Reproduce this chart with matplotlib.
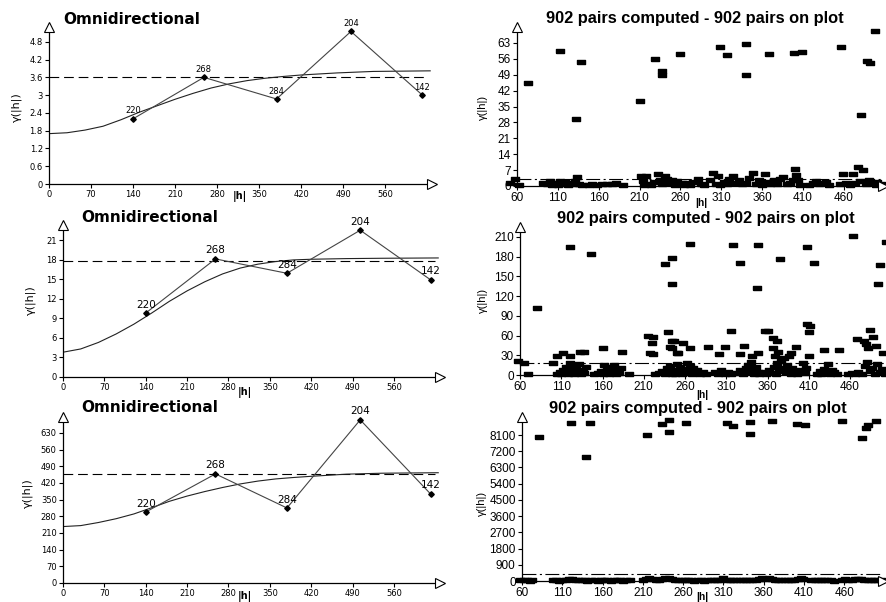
import numpy as np
import matplotlib
matplotlib.use('Agg')
import matplotlib.pyplot as plt

plt.rcParams['lines.scale_dashes'] = False

W, H = 887, 602

# experimental variograms (left column)
lags = [140, 258, 379, 503, 622]
npairs = [220, 268, 284, 204, 142]
gam1 = [2.2, 3.6, 2.87, 5.15, 3.0]
gam2 = [9.8, 18.1, 15.9, 22.5, 14.9]
gam3 = [298, 458, 315, 685, 374]
sills = [3.62, 17.8, 458]

# fitted model curves
mod_h = [0, 30, 60, 90, 120, 150, 180, 210, 240, 270, 300, 330, 360, 390, 420, 480, 540, 635]
mod_g1 = [1.70, 1.73, 1.82, 1.95, 2.17, 2.42, 2.64, 2.86, 3.06, 3.24, 3.38, 3.49, 3.57, 3.63, 3.68, 3.75, 3.80, 3.82]
mod_g2 = [3.8, 4.3, 5.3, 6.6, 8.1, 9.8, 11.6, 13.2, 14.6, 15.8, 16.7, 17.3, 17.7, 17.95, 18.05, 18.15, 18.2, 18.25]
mod_g3 = [237, 241, 254, 270, 290, 316, 343, 365, 384, 401, 416, 428, 437, 443, 448, 457, 461, 463]

# variogram clouds (right column)
cloud1 = np.array([
    (73.5, 45.3), (113, 59.6), (132.7, 29.4), (138, 54.6), (210, 37.6), (228.6, 55.9),
    (238, 50.7), (238, 49), (259, 58.3), (309, 61.4), (317, 57.7), (340, 62.4), (340, 49),
    (368, 58.1), (399, 58.6), (409, 59), (457, 61.4), (481.6, 31.3), (489, 55.2), (492, 54),
    (498, 68.1),
    (52, 1.2), (57, 2.9), (63, 0.4),
    (92, 1.5), (97, 0.8), (100, 2.0), (103, 0.5), (106, 1.2), (110, 0.6), (113, 2.0), (116, 0.9),
    (119, 1.6), (122, 0.4), (125, 1.3), (128, 0.7), (131, 2.4), (134, 4.0), (136, 1.0), (139, 0.3),
    (148, 0.5), (152, 0.9), (158, 0.6), (164, 0.8), (170, 0.7), (176, 0.9), (181, 1.2), (190, 0.3),
    (212, 4.5), (214, 2.0), (216, 0.6), (218, 4.2), (220, 1.0), (224, 0.5), (228, 1.8), (232, 5.2),
    (235, 2.5), (238, 0.8), (241, 4.5), (244, 3.0), (247, 1.2), (250, 2.5), (253, 0.6), (256, 2.0),
    (259, 0.9), (262, 1.5), (265, 0.4), (268, 1.2), (272, 0.5), (276, 1.9), (281, 2.9), (285, 0.7),
    (289, 0.4), (296, 2.8), (300, 5.6), (303, 1.0), (306, 4.5), (309, 0.6), (313, 1.8), (317, 0.9),
    (320, 3.2), (324, 4.5), (327, 1.2), (332, 2.8), (336, 0.8), (340, 1.5), (344, 3.5), (349, 5.9),
    (352, 1.0), (356, 2.5), (360, 0.6), (363, 5.3), (366, 1.8), (370, 0.7), (374, 2.5), (378, 1.0),
    (382, 3.0), (386, 4.1), (390, 0.8), (394, 1.5), (398, 2.5), (400, 7.3), (402, 5.0), (404, 2.8),
    (406, 0.6), (418, 0.5), (422, 1.2), (426, 2.0), (430, 0.8), (434, 1.4), (438, 1.8), (442, 0.5),
    (455, 0.8), (459, 5.1), (463, 1.5), (467, 0.6), (471, 5.1), (474, 1.2), (477, 8.3), (480, 2.0),
    (484, 7.0), (487, 0.8), (491, 2.8), (495, 1.2), (499, 0.5), (501, 1.6), (505, 0.9)])

cloud2 = np.array([
    (58, 21.9), (65, 19), (70, 1.5), (80, 101.7), (100, 17.8), (105, 29), (112.5, 34), (121, 29),
    (121, 194), (145.6, 184), (133, 34.6), (138, 35.6), (161, 41.7), (183, 35.6), (215.5, 60),
    (221.6, 58.5), (219.6, 49), (218, 34), (221.6, 32), (236, 168), (244.6, 178), (244.6, 138),
    (239, 65), (244, 51), (247, 51), (242, 43), (244, 40.7), (250, 34), (252, 33), (258, 48),
    (266, 40.7), (266, 199), (288, 42.7), (301.6, 31.5), (308.5, 42), (315.5, 67), (318, 197),
    (326, 170), (326, 31.5), (331, 44), (341, 29), (347, 132), (348, 197), (348, 33), (357, 67),
    (361, 67), (367, 56), (371, 51), (375, 177), (367, 40.7), (369, 29), (373, 35.6), (386, 29),
    (389, 33), (394, 42), (408, 195), (408, 78), (411, 75), (410, 65), (410, 29), (416, 171),
    (428, 37.6), (446, 38), (464, 211), (468, 55.4), (477, 52), (479.5, 46.8), (482, 41.7),
    (484, 68.6), (488, 57.4), (491.5, 44.7), (494, 138), (496, 167), (504, 202), (500, 33),
    (105, 2), (108, 5), (110, 1), (112, 8), (114, 3), (116, 12), (118, 2), (120, 18), (122, 6),
    (124, 14), (126, 2), (128, 9), (130, 4), (132, 16), (134, 1), (136, 7), (138, 3), (140, 12),
    (150, 1), (154, 3.5), (158, 6), (160, 1), (162, 15), (164, 4), (166, 9), (168, 2), (170, 12),
    (172, 5), (174, 15), (176, 1), (178, 8), (180, 3), (182, 11), (192, 1),
    (224, 1), (228, 3), (232, 6), (236, 1), (238, 10), (240, 4), (242, 14), (244, 2), (246, 8),
    (248, 1), (250, 17), (252, 5), (254, 12), (256, 2), (258, 9), (260, 3), (262, 19), (264, 6),
    (266, 14), (268, 2), (270, 10), (272, 4), (275, 7), (278, 2), (282, 5), (286, 1),
    (296, 4), (300, 1), (303, 8), (306, 3), (309, 1), (312, 5), (316, 2), (322, 3), (326, 7),
    (330, 2), (334, 10), (336, 15), (338, 4), (340, 20), (342, 8), (344, 2), (346, 12), (348, 5),
    (350, 1), (354, 4), (358, 2), (362, 7), (366, 3), (368, 12), (370, 1), (372, 18), (374, 6),
    (376, 22), (378, 10), (380, 26), (382, 4), (384, 15), (386, 8), (388, 2), (390, 11), (392, 5),
    (396, 1), (400, 7), (403, 18), (405, 3), (407, 10), (420, 2), (423, 6), (425, 1), (428, 9),
    (430, 4), (433, 16), (436, 2), (438, 8), (441, 4), (444, 1), (458, 1), (462, 3), (466, 1),
    (470, 5), (474, 2), (478, 14), (481, 20), (484, 6), (487, 11), (490, 2), (493, 16), (496, 4),
    (499, 9), (502, 1), (505, 7)])

cloud3 = np.array([
    (81, 8010), (120.4, 8785), (140, 6870), (144.6, 8750), (215.4, 8100), (233.8, 8710),
    (242.5, 8930), (242.5, 8290), (263.3, 8750), (314, 8750), (321.7, 8600), (342.5, 8820),
    (342.5, 8140), (370.4, 8900), (401.7, 8710), (410.8, 8670), (457, 8900), (482, 7920),
    (487, 8470), (490, 8650), (499, 8900),
    (58, 40), (62, 30), (66, 50), (70, 20), (73, 40),
    (98, 30), (102, 50), (106, 20), (110, 60), (114, 40), (118, 110), (122, 120), (126, 50),
    (130, 30), (134, 80), (138, 40), (141, 20), (146, 30), (150, 60), (154, 20), (158, 40),
    (162, 30), (166, 50), (170, 20), (174, 40), (178, 30), (182, 50), (185, 20), (189, 30),
    (194, 40), (210, 60), (214, 120), (218, 150), (222, 90), (226, 40), (230, 60), (234, 110),
    (238, 150), (242, 140), (246, 120), (250, 60), (254, 30), (258, 50), (262, 40), (266, 30),
    (270, 50), (274, 20), (278, 40), (282, 30), (286, 20), (290, 30), (294, 40), (298, 60),
    (302, 50), (306, 80), (310, 140), (314, 60), (318, 40), (322, 70), (326, 50), (330, 40),
    (334, 60), (338, 50), (342, 40), (346, 70), (350, 60), (354, 120), (358, 150), (362, 130),
    (366, 150), (370, 100), (374, 60), (378, 50), (382, 40), (386, 60), (390, 50), (394, 40),
    (398, 70), (402, 130), (406, 150), (409, 110), (419, 30), (423, 50), (427, 40), (431, 30),
    (435, 50), (439, 40), (443, 30), (447, 20), (457, 50), (461, 120), (465, 60), (469, 50),
    (473, 90), (477, 130), (481, 120), (485, 60), (489, 40), (493, 50), (497, 30), (501, 40),
    (505, 30)])
cloud_sills = [3.1, 18, 400]

fig = plt.figure(figsize=(W / 100, H / 100), dpi=100)


def px_axes(x0, ytop, x1, ybot):
    return fig.add_axes([x0 / W, 1 - ybot / H, (x1 - x0) / W, (ybot - ytop) / H])


def ftext(x, y, s, **kw):
    fig.text(x / W, 1 - y / H, s, ha='center', va='center', **kw)


def frame(ax, xlim, ylim, xticks, yticks, ylabels, fs, family):
    ax.set_xlim(*xlim)
    ax.set_ylim(*ylim)
    ax.patch.set_visible(False)
    for s in ('top', 'right'):
        ax.spines[s].set_visible(False)
    for s in ('left', 'bottom'):
        ax.spines[s].set_linewidth(0.9)
    ax.set_xticks(xticks)
    ax.set_xticklabels([str(t) for t in xticks], fontsize=fs, family=family)
    ax.set_yticks(yticks)
    ax.set_yticklabels(ylabels, fontsize=fs, family=family)
    ax.tick_params(length=3, width=0.8, pad=1.5)
    ax.plot(0, 1, '^', transform=ax.transAxes, ms=7, mfc='white', mec='black',
            mew=0.8, clip_on=False, zorder=6)
    ax.plot(1, 0, '>', transform=ax.transAxes, ms=7, mfc='white', mec='black',
            mew=0.8, clip_on=False, zorder=6)


# ---- left column: experimental variogram + model ----
left_boxes = [(49, 27, 432, 184), (63, 225, 440, 377), (63, 417, 440, 583)]
left_ymax = [5.3, 23.3, 697]
left_gam = [gam1, gam2, gam3]
left_mod = [mod_g1, mod_g2, mod_g3]
left_yt = [[0, 0.6, 1.2, 1.8, 2.4, 3, 3.6, 4.2, 4.8],
           [0, 3, 6, 9, 12, 15, 18, 21],
           [0, 70, 140, 210, 280, 350, 420, 490, 560, 630]]
left_cnt_fs = [6, 7.5, 7.5]
xt_left = [0, 70, 140, 210, 280, 350, 420, 490, 560]

for i in range(3):
    ax = px_axes(*left_boxes[i])
    frame(ax, (0, 638), (0, left_ymax[i]), xt_left, left_yt[i],
          [str(v) for v in left_yt[i]], 6, 'DejaVu Sans')
    ax.plot([0, 630], [sills[i], sills[i]], color='black', lw=0.8, dashes=(7, 3.5))
    ax.plot(mod_h, left_mod[i], color='#222222', lw=0.8)
    ax.plot(lags, left_gam[i], color='#444444', lw=0.8)
    ax.plot(lags, left_gam[i], 'D', color='black', ms=2.8)
    for h, g, n in zip(lags, left_gam[i], npairs):
        ax.annotate(str(n), (h, g), xytext=(0, 2.5), textcoords='offset points',
                    ha='center', va='bottom', fontsize=left_cnt_fs[i], clip_on=False)

# ---- right column: variogram clouds ----
right_boxes = [(517, 27, 883, 186), (520, 227, 893, 375), (522, 417, 883, 581)]
right_xmax = [508, 512, 508]
right_ymax = [70, 225, 9100]
clouds = [cloud1, cloud2, cloud3]
right_yt = [[0, 7, 14, 21, 28, 35, 42, 49, 56, 63],
            [0, 30, 60, 90, 120, 150, 180, 210],
            [0, 900, 1800, 2700, 3600, 4500, 5400, 6300, 7200, 8100]]
xt_right = [60, 110, 160, 210, 260, 310, 360, 410, 460]
rect = [(-1, -0.6), (1, -0.6), (1, 0.6), (-1, 0.6), (-1, -0.6)]

for i in range(3):
    ax = px_axes(*right_boxes[i])
    frame(ax, (60, right_xmax[i]), (0, right_ymax[i]), xt_right, right_yt[i],
          [str(v) for v in right_yt[i]], 8.5, 'Liberation Sans')
    ax.plot([60, right_xmax[i] - 3], [cloud_sills[i]] * 2, color='black', lw=0.8,
            dashes=(10, 2.5, 1.5, 2.5), zorder=1)
    ax.plot(clouds[i][:, 0], clouds[i][:, 1], ls='none', marker=rect, ms=5.2,
            color='black', clip_on=False, zorder=3)

# ---- titles and axis labels ----
ftext(132, 19, 'Omnidirectional', family='DejaVu Sans', fontsize=11, fontweight='bold')
ftext(150, 217, 'Omnidirectional', family='DejaVu Sans', fontsize=11, fontweight='bold')
ftext(150, 408, 'Omnidirectional', family='DejaVu Sans', fontsize=11, fontweight='bold')
rt_kw = dict(family='Liberation Sans', fontsize=11.8, fontweight='bold')
ftext(695, 18, '902 pairs computed - 902 pairs on plot', **rt_kw)
ftext(706, 219, '902 pairs computed - 902 pairs on plot', **rt_kw)
ftext(698, 408, '902 pairs computed - 902 pairs on plot', **rt_kw)

for x, y in [(240, 197), (245, 393), (245, 597)]:
    ftext(x, y, '|h|', fontsize=7, fontweight='bold', family='DejaVu Sans')
for x, y in [(701, 203), (702, 395), (702, 597)]:
    ftext(x, y, '|h|', fontsize=7.5, fontweight='bold', family='Liberation Sans')
for x, y in [(17, 107), (31, 300), (28, 493)]:
    ftext(x, y, 'γ(|h|)', fontsize=8, rotation=90, family='DejaVu Sans')
for x, y in [(483, 107), (483, 300), (482, 503)]:
    ftext(x, y, 'γ(|h|)', fontsize=8, rotation=90, family='Liberation Sans')

fig.savefig('out.png', dpi=100)
